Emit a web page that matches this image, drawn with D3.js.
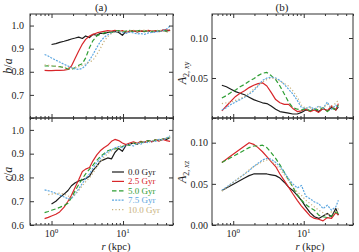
<!DOCTYPE html>
<html>
<head>
<meta charset="utf-8">
<script src="https://cdn.jsdelivr.net/npm/d3@7"></script>
<style>
  body { margin: 0; background: #fff; }
  svg { display: block; font-family: "Liberation Serif", "Times New Roman", serif; }
  .axis .domain { display: none; }
  .axis line { stroke: #333; }
  .axis text { font-size: 10px; fill: #222; font-family: "Liberation Serif", serif; }
</style>
</head>
<body>
<svg width="359" height="252"></svg>
<script>
// Data
const times = ["0.0 Gyr", "2.5 Gyr", "5.0 Gyr", "7.5 Gyr", "10.0 Gyr"];

// radii for panel (a)
const rA = [0.8, 0.9, 1.0, 1.15, 1.3, 1.5, 1.7, 1.9, 2.15, 2.4, 2.7, 3.0, 3.4, 3.8, 4.3, 4.8, 5.4, 6.1, 6.9, 7.7,
  8.7, 9.8, 11, 12.4, 14, 15.8, 17.8, 20, 22.5, 25.3, 28.5, 32, 36, 40.5, 45.5];

const ba0 = [null, null, 0.918, 0.922, 0.927, 0.932, 0.937, 0.942, 0.946, 0.950, 0.944, 0.955, 0.948, 0.962, 0.958, 0.967, 0.965, 0.970, 0.972, 0.975,
  0.970, 0.958, 0.975, 0.973, 0.978, 0.972, 0.976, 0.974, 0.978, 0.972, 0.977, 0.975, 0.979, 0.976, 0.980];
const ba25 = [0.806, 0.805, 0.805, 0.806, 0.806, 0.807, 0.810, 0.825, 0.860, 0.890, 0.920, 0.940, 0.955, 0.962, 0.968, 0.972, 0.975, 0.978, 0.976, 0.979,
  0.975, 0.978, 0.972, 0.976, 0.978, 0.974, 0.977, 0.975, 0.979, 0.976, 0.978, 0.974, 0.980, 0.982, 0.978];
const ba50 = [0.825, 0.826, 0.825, 0.824, 0.822, 0.818, 0.812, 0.810, 0.818, 0.828, 0.835, 0.860, 0.905, 0.935, 0.955, 0.963, 0.968, 0.972, 0.970, 0.975,
  0.978, 0.972, 0.976, 0.979, 0.973, 0.977, 0.980, 0.975, 0.978, 0.974, 0.979, 0.976, 0.980, 0.977, 0.975];
const ba75 = [0.875, 0.868, 0.860, 0.850, 0.842, 0.832, 0.825, 0.818, 0.812, 0.810, 0.815, 0.828, 0.850, 0.875, 0.905, 0.930, 0.948, 0.960, 0.968, 0.972,
  0.975, 0.970, 0.966, 0.972, 0.968, 0.964, 0.965, 0.962, 0.968, 0.970, 0.972, 0.975, 0.978, 0.985, 0.998];
const ba100 = [0.830, 0.828, 0.826, 0.824, 0.822, 0.820, 0.818, 0.816, 0.818, 0.822, 0.828, 0.835, 0.842, 0.850, 0.875, 0.900, 0.930, 0.952, 0.966, 0.972,
  0.975, 0.978, 0.974, 0.976, 0.979, 0.975, 0.977, 0.980, 0.976, 0.974, 0.978, 0.980, 0.976, 0.972, 0.970];

const ca0 = [null, null, 0.688, 0.700, 0.715, 0.730, 0.745, 0.765, 0.778, 0.785, 0.790, 0.795, 0.805, 0.830, 0.848, 0.868, 0.875, 0.882, 0.878, 0.905,
  0.922, 0.910, 0.935, 0.940, 0.945, 0.940, 0.950, 0.948, 0.955, 0.950, 0.958, 0.955, 0.962, 0.960, 0.968];
const ca25 = [0.627, 0.632, 0.638, 0.645, 0.655, 0.675, 0.700, 0.725, 0.760, 0.790, 0.825, 0.835, 0.842, 0.870, 0.895, 0.912, 0.925, 0.935, 0.952, 0.960,
  0.955, 0.945, 0.938, 0.945, 0.950, 0.944, 0.952, 0.948, 0.955, 0.950, 0.958, 0.953, 0.960, 0.955, 0.952];
const ca50 = [0.652, 0.657, 0.662, 0.668, 0.674, 0.682, 0.692, 0.715, 0.745, 0.770, 0.795, 0.815, 0.835, 0.852, 0.872, 0.888, 0.900, 0.912, 0.918, 0.920,
  0.922, 0.930, 0.938, 0.935, 0.945, 0.942, 0.950, 0.946, 0.955, 0.952, 0.958, 0.955, 0.962, 0.965, 0.970];
const ca75 = [0.748, 0.744, 0.740, 0.733, 0.726, 0.718, 0.710, 0.712, 0.730, 0.752, 0.775, 0.795, 0.815, 0.840, 0.862, 0.880, 0.895, 0.908, 0.915, 0.925,
  0.930, 0.925, 0.935, 0.940, 0.932, 0.945, 0.940, 0.950, 0.946, 0.955, 0.952, 0.960, 0.958, 0.965, 0.975];
const ca100 = [null, 0.728, 0.730, 0.732, 0.734, 0.730, 0.722, 0.718, 0.728, 0.745, 0.765, 0.782, 0.798, 0.818, 0.845, 0.865, 0.885, 0.900, 0.912, 0.920,
  0.928, 0.935, 0.932, 0.940, 0.945, 0.942, 0.948, 0.952, 0.950, 0.955, 0.958, 0.955, 0.962, 0.965, 0.968];

// radii for panel (b)
const rB = [0.69, 0.8, 0.93, 1.08, 1.25, 1.45, 1.68, 1.95, 2.25, 2.6, 3.0, 3.45, 4.0, 4.6, 5.3, 6.1, 7.0, 8.1, 9.3, 10.7,
  12.3, 14.2, 16.3, 18.8, 21.6, 24.8, 28.5, 31];

const xy0 = [0.041, 0.039, 0.036, 0.033, 0.031, 0.029, 0.026, 0.023, 0.021, 0.019, 0.018, 0.015, 0.011, 0.008, 0.007, 0.006, 0.005, 0.005, 0.007, 0.010,
  0.009, 0.011, 0.008, 0.012, 0.009, 0.013, 0.010, 0.014];
const xy25 = [0.009, 0.015, 0.021, 0.027, 0.031, 0.034, 0.038, 0.041, 0.043, 0.044, 0.040, 0.032, 0.023, 0.019, 0.017, 0.017, 0.012, 0.008, 0.009, 0.011,
  0.008, 0.010, 0.007, 0.012, 0.009, 0.015, 0.010, 0.018];
const xy50 = [0.025, 0.028, 0.032, 0.035, 0.039, 0.042, 0.046, 0.049, 0.053, 0.056, 0.057, 0.053, 0.048, 0.040, 0.030, 0.020, 0.013, 0.011, 0.010, 0.012,
  0.009, 0.011, 0.010, 0.013, 0.008, 0.012, 0.011, 0.016];
const xy75 = [0.010, 0.013, 0.017, 0.020, 0.023, 0.026, 0.030, 0.034, 0.040, 0.047, 0.050, 0.051, 0.050, 0.047, 0.042, 0.036, 0.030, 0.022, 0.013, 0.012,
  0.014, 0.011, 0.015, 0.012, 0.020, 0.011, 0.016, 0.013];
const xy100 = [0.018, 0.019, 0.020, 0.022, 0.024, 0.027, 0.031, 0.036, 0.041, 0.045, 0.048, 0.050, 0.049, 0.046, 0.043, 0.040, 0.034, 0.026, 0.016, 0.012,
  0.013, 0.010, 0.014, 0.012, 0.017, 0.013, 0.019, 0.022];

const xz0 = [0.042, 0.045, 0.048, 0.051, 0.054, 0.057, 0.060, 0.062, 0.062, 0.062, 0.062, 0.061, 0.060, 0.057, 0.052, 0.046, 0.042, 0.036, 0.030, 0.022,
  0.015, 0.010, 0.008, 0.011, 0.014, 0.010, 0.020, 0.012];
const xz25 = [0.076, 0.080, 0.084, 0.088, 0.092, 0.096, 0.100, 0.098, 0.094, 0.089, 0.083, 0.077, 0.071, 0.062, 0.054, 0.046, 0.038, 0.030, 0.023, 0.017,
  0.011, 0.008, 0.007, 0.005, 0.009, 0.008, 0.015, 0.012];
const xz50 = [0.076, 0.079, 0.082, 0.085, 0.088, 0.091, 0.094, 0.096, 0.096, 0.097, 0.094, 0.088, 0.081, 0.073, 0.064, 0.055, 0.046, 0.037, 0.030, 0.025,
  0.021, 0.018, 0.012, 0.010, 0.009, 0.011, 0.016, 0.014];
const xz75 = [0.042, 0.046, 0.050, 0.054, 0.058, 0.062, 0.066, 0.071, 0.075, 0.079, 0.081, 0.080, 0.076, 0.071, 0.064, 0.056, 0.050, 0.045, 0.048, 0.035,
  0.032, 0.028, 0.026, 0.020, 0.024, 0.018, 0.022, 0.030];
const xz100 = [0.041, 0.045, 0.050, 0.054, 0.058, 0.062, 0.067, 0.071, 0.074, 0.077, 0.079, 0.078, 0.073, 0.068, 0.061, 0.054, 0.047, 0.040, 0.036, 0.030,
  0.026, 0.022, 0.018, 0.015, 0.012, 0.016, 0.014, 0.020];

const ratioTicks = [0.6, 0.7, 0.8, 0.9, 1.0];
const ampTicks = [0.00, 0.05, 0.10];
const xMajor = [1, 10];
const xMinor = [0.5, 0.6, 0.7, 0.8, 0.9, 2, 3, 4, 5, 6, 7, 8, 9, 20, 30, 40, 50];

// Styles
const colors = ["#1c1c1c", "#d8262a", "#2e9e34", "#5ba6e0", "#c9b27c"];
const dashes = [null, null, "4.5,2.5", "2,1.2", "1.2,2.2"];

// Layout
const svg = d3.select("svg");
const cols = [{ x0: 30, x1: 173 }, { x0: 212, x1: 353 }];
const rows = [{ y0: 14, y1: 118 }, { y0: 118, y1: 225 }];

const drawPanel = (col, row, r, series, yDomain, yTicks, yLabels, yFmt, pad, bottom) => {
  const x = d3.scaleLog().domain([0.5, 50]).range([col.x0, col.x1]);
  const y = d3.scaleLinear().domain(yDomain).range([row.y1, row.y0]);
  const g = svg.append("g");

  const line = d3.line().defined(d => d[1] != null).x(d => x(d[0])).y(d => y(d[1]));
  series.forEach((vals, i) => {
    g.append("path")
      .datum(r.map((rv, j) => [rv, vals[j]]))
      .attr("d", line)
      .attr("fill", "none")
      .attr("stroke", colors[i])
      .attr("stroke-width", 1.2)
      .attr("stroke-linejoin", "round")
      .attr("stroke-dasharray", dashes[i]);
  });

  // frame
  g.append("rect")
    .attr("x", col.x0).attr("y", row.y0)
    .attr("width", col.x1 - col.x0).attr("height", row.y1 - row.y0)
    .attr("fill", "none").attr("stroke", "#333").attr("stroke-width", 1);

  // y axes (inside ticks, both sides)
  g.append("g").attr("class", "axis").attr("transform", `translate(${col.x0},0)`)
    .call(d3.axisLeft(y).tickValues(yTicks).tickSize(-4).tickPadding(pad)
      .tickFormat(v => yLabels.includes(v) ? yFmt(v) : ""));
  g.append("g").attr("class", "axis").attr("transform", `translate(${col.x1},0)`)
    .call(d3.axisRight(y).tickValues(yTicks).tickSize(-4).tickFormat(""));

  // x axes, top and bottom
  [[row.y1, d3.axisBottom], [row.y0, d3.axisTop]].forEach(([yy, ax]) => {
    g.append("g").attr("class", "axis").attr("transform", `translate(0,${yy})`)
      .call(ax(x).tickValues(xMajor).tickSize(-4).tickFormat(""));
    g.append("g").attr("class", "axis").attr("transform", `translate(0,${yy})`)
      .call(ax(x).tickValues(xMinor).tickSize(-2).tickFormat(""));
  });

  if (bottom) {
    xMajor.forEach(v => {
      const t = g.append("text").attr("x", x(v)).attr("y", 237)
        .attr("text-anchor", "middle").attr("font-size", 10).attr("fill", "#222");
      t.append("tspan").text("10");
      t.append("tspan").attr("dy", -4).attr("font-size", 7).text(Math.round(Math.log10(v)));
    });
  }
  return { x, y };
};

const f1 = d3.format(".1f"), f2 = d3.format(".2f");
drawPanel(cols[0], rows[0], rA, [ba0, ba25, ba50, ba75, ba100], [0.6, 1.05], ratioTicks, [0.7, 0.8, 0.9, 1.0], f1, 6, false);
drawPanel(cols[0], rows[1], rA, [ca0, ca25, ca50, ca75, ca100], [0.6, 1.05], ratioTicks, ratioTicks, f1, 6, true);
drawPanel(cols[1], rows[0], rB, [xy0, xy25, xy50, xy75, xy100], [0, 0.13], ampTicks, [0.05, 0.10], f2, 4, false);
drawPanel(cols[1], rows[1], rB, [xz0, xz25, xz50, xz75, xz100], [0, 0.13], ampTicks, ampTicks, f2, 4, true);

// panel titles
svg.append("text").attr("x", 101).attr("y", 11).attr("text-anchor", "middle").attr("font-size", 11).attr("fill", "#222").text("(a)");
svg.append("text").attr("x", 282).attr("y", 11).attr("text-anchor", "middle").attr("font-size", 11).attr("fill", "#222").text("(b)");

// y titles
const yTitle = (x, y, parts) => {
  const t = svg.append("text").attr("transform", `translate(${x},${y}) rotate(-90)`)
    .attr("text-anchor", "middle").attr("font-size", 12).attr("fill", "#222");
  parts.forEach(p => {
    const s = t.append("tspan").text(p.t);
    if (p.i) s.attr("font-style", "italic");
    if (p.sub) s.attr("font-size", 8).attr("dy", p.dy);
  });
};
yTitle(12, 66, [{ t: "b", i: true }, { t: "/" }, { t: "a", i: true }]);
yTitle(12, 174, [{ t: "c", i: true }, { t: "/" }, { t: "a", i: true }]);
yTitle(186, 73, [{ t: "A", i: true }, { t: "2, ", sub: true, dy: 3 }, { t: "xy", i: true, sub: true, dy: 0 }]);
yTitle(186, 172, [{ t: "A", i: true }, { t: "2, ", sub: true, dy: 3 }, { t: "xz", i: true, sub: true, dy: 0 }]);

// x titles
[116, 310].forEach(cx => {
  const t = svg.append("text").attr("x", cx).attr("y", 249.5).attr("text-anchor", "middle")
    .attr("font-size", 10.5).attr("fill", "#222");
  t.append("tspan").attr("font-style", "italic").text("r");
  t.append("tspan").text(" (kpc)");
});

// legend
const leg = svg.append("g").attr("transform", "translate(112,172)");
times.forEach((name, i) => {
  const gy = i * 9.4;
  leg.append("line").attr("x1", 0).attr("x2", 12).attr("y1", gy).attr("y2", gy)
    .attr("stroke", colors[i]).attr("stroke-width", 1.2).attr("stroke-dasharray", dashes[i]);
  leg.append("text").attr("x", 16).attr("y", gy + 3).attr("font-size", 9)
    .attr("fill", colors[i]).text(name);
});
</script>
</body>
</html>
